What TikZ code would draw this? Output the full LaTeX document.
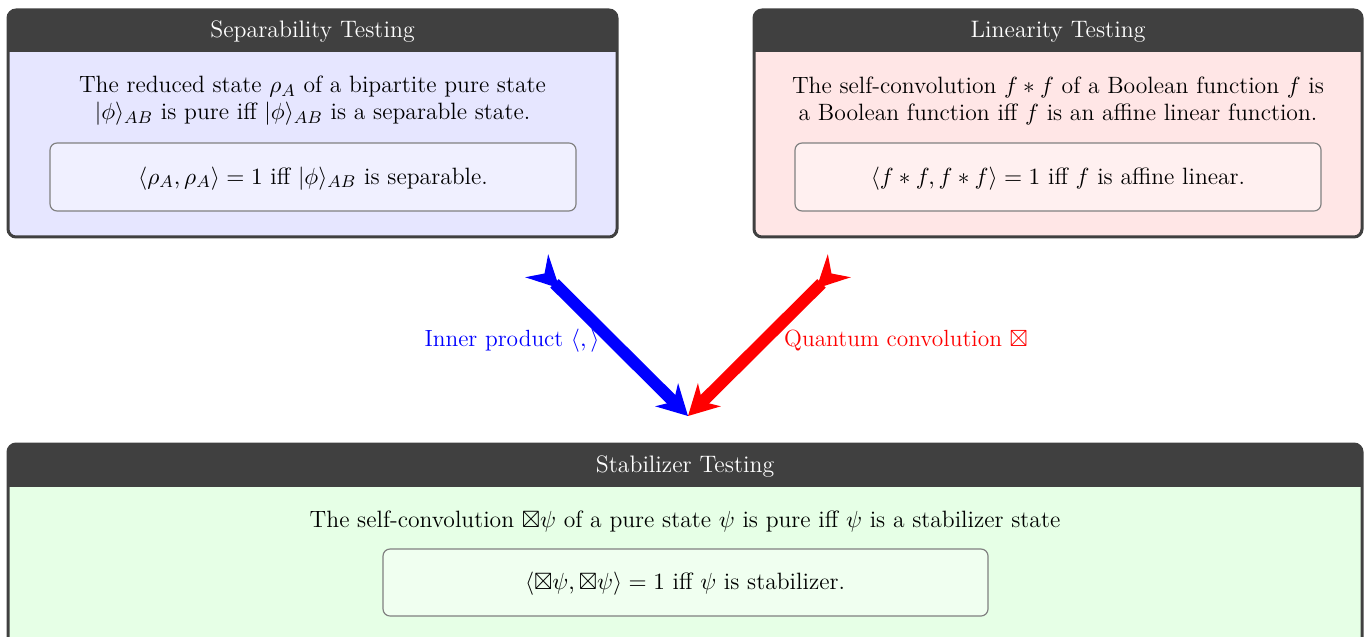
\documentclass[tikz,border=0pt]{standalone}
\usepackage{amsmath,amssymb}
\usetikzlibrary{arrows.meta}
\definecolor{framegray}{HTML}{404040}
\definecolor{bodyblue}{HTML}{E6E6FF}
\definecolor{bodyred}{HTML}{FFE6E6}
\definecolor{bodygreen}{HTML}{E6FFE6}
\tikzset{
  frame/.style={draw=framegray, line width=1.41pt, rounded corners=3.76pt},
  titlebar/.style={fill=framegray, rounded corners=3.76pt},
  titletext/.style={text=white, font=\fontsize{11.2}{13}\selectfont, anchor=center},
  bodytext/.style={text=black, align=center, anchor=center, font=\fontsize{11.1}{12.7}\selectfont},
  innerbox/.style={draw=gray, line width=0.55pt, rounded corners=3.3pt},
  bigarrow/.style={line width=5.6pt, {Stealth[reversed,length=15pt,width=15pt,inset=5pt]}-{Stealth[length=14pt,width=15pt,inset=4.5pt]}},
  arrlabel/.style={anchor=center, font=\fontsize{11}{12.7}\selectfont}
}
\begin{document}
\begin{tikzpicture}[x=0.47pt,y=-0.47pt]
\useasboundingbox (0,0) rectangle (1366,637);
\clip (0,0) rectangle (1366,637);
% ---------- left box ----------
\fill[bodyblue, rounded corners=3.76pt] (8,10) rectangle (617,237);
\fill[titlebar] (8,10) rectangle (617,60);
\fill[bodyblue] (9,52) rectangle (616,70);
\draw[frame] (8,10) rectangle (617,237);
\node[titletext] (tL) at (312.5,31.5) {Separability Testing};
\node[bodytext] (bL) at (312.5,101) {The reduced state $\rho_A$ of a bipartite pure state\\ $|\phi\rangle_{AB}$ is pure iff $|\phi\rangle_{AB}$ is a separable state.};
\filldraw[innerbox, fill=bodyblue!60!white] (50,143) rectangle (576,211);
\node[bodytext] (iL) at (313,178.5) {$\langle \rho_A,\rho_A\rangle = 1$ iff $|\phi\rangle_{AB}$ is separable.};
% ---------- right box ----------
\fill[bodyred, rounded corners=3.76pt] (754,10) rectangle (1362,237);
\fill[titlebar] (754,10) rectangle (1362,60);
\fill[bodyred] (755,52) rectangle (1361,70);
\draw[frame] (754,10) rectangle (1362,237);
\node[titletext] (tR) at (1058,31.5) {Linearity Testing};
\node[bodytext] (bR) at (1058,101) {The self-convolution $f*f$ of a Boolean function $f$ is\\ a Boolean function iff $f$ is an affine linear function.};
\filldraw[innerbox, fill=bodyred!60!white] (795,143) rectangle (1321,211);
\node[bodytext] (iR) at (1058,178.5) {$\langle f*f, f*f\rangle = 1$ iff $f$ is affine linear.};
% ---------- bottom box ----------
\fill[bodygreen, rounded corners=3.76pt] (8,444) rectangle (1362,720);
\fill[titlebar] (8,444) rectangle (1362,495);
\fill[bodygreen] (9,487) rectangle (1361,505);
\draw[frame] (8,444) rectangle (1362,720);
\node[titletext] (tB) at (685,466.5) {Stabilizer Testing};
\node[bodytext] (bB) at (685,521.5) {The self-convolution $\boxtimes\psi$ of a pure state $\psi$ is pure iff $\psi$ is a stabilizer state};
\filldraw[innerbox, fill=bodygreen!60!white] (383,549) rectangle (988,616);
\node[bodytext] (iB) at (685,583.5) {$\langle \boxtimes\psi, \boxtimes\psi\rangle = 1$ iff $\psi$ is stabilizer.};
% ---------- arrows ----------
\coordinate (bs) at (537,266);
\coordinate (rs) at (839,266);
\coordinate (tip) at (688,416);
\draw[bigarrow, blue] (bs) -- (tip);
\draw[bigarrow, red] (rs) -- (tip);
\node[arrlabel, text=blue] (lb) at (512,341) {Inner product $\langle , \rangle$};
\node[arrlabel, text=red] (lr) at (906,341) {Quantum convolution $\boxtimes$};
\end{tikzpicture}
\end{document}
